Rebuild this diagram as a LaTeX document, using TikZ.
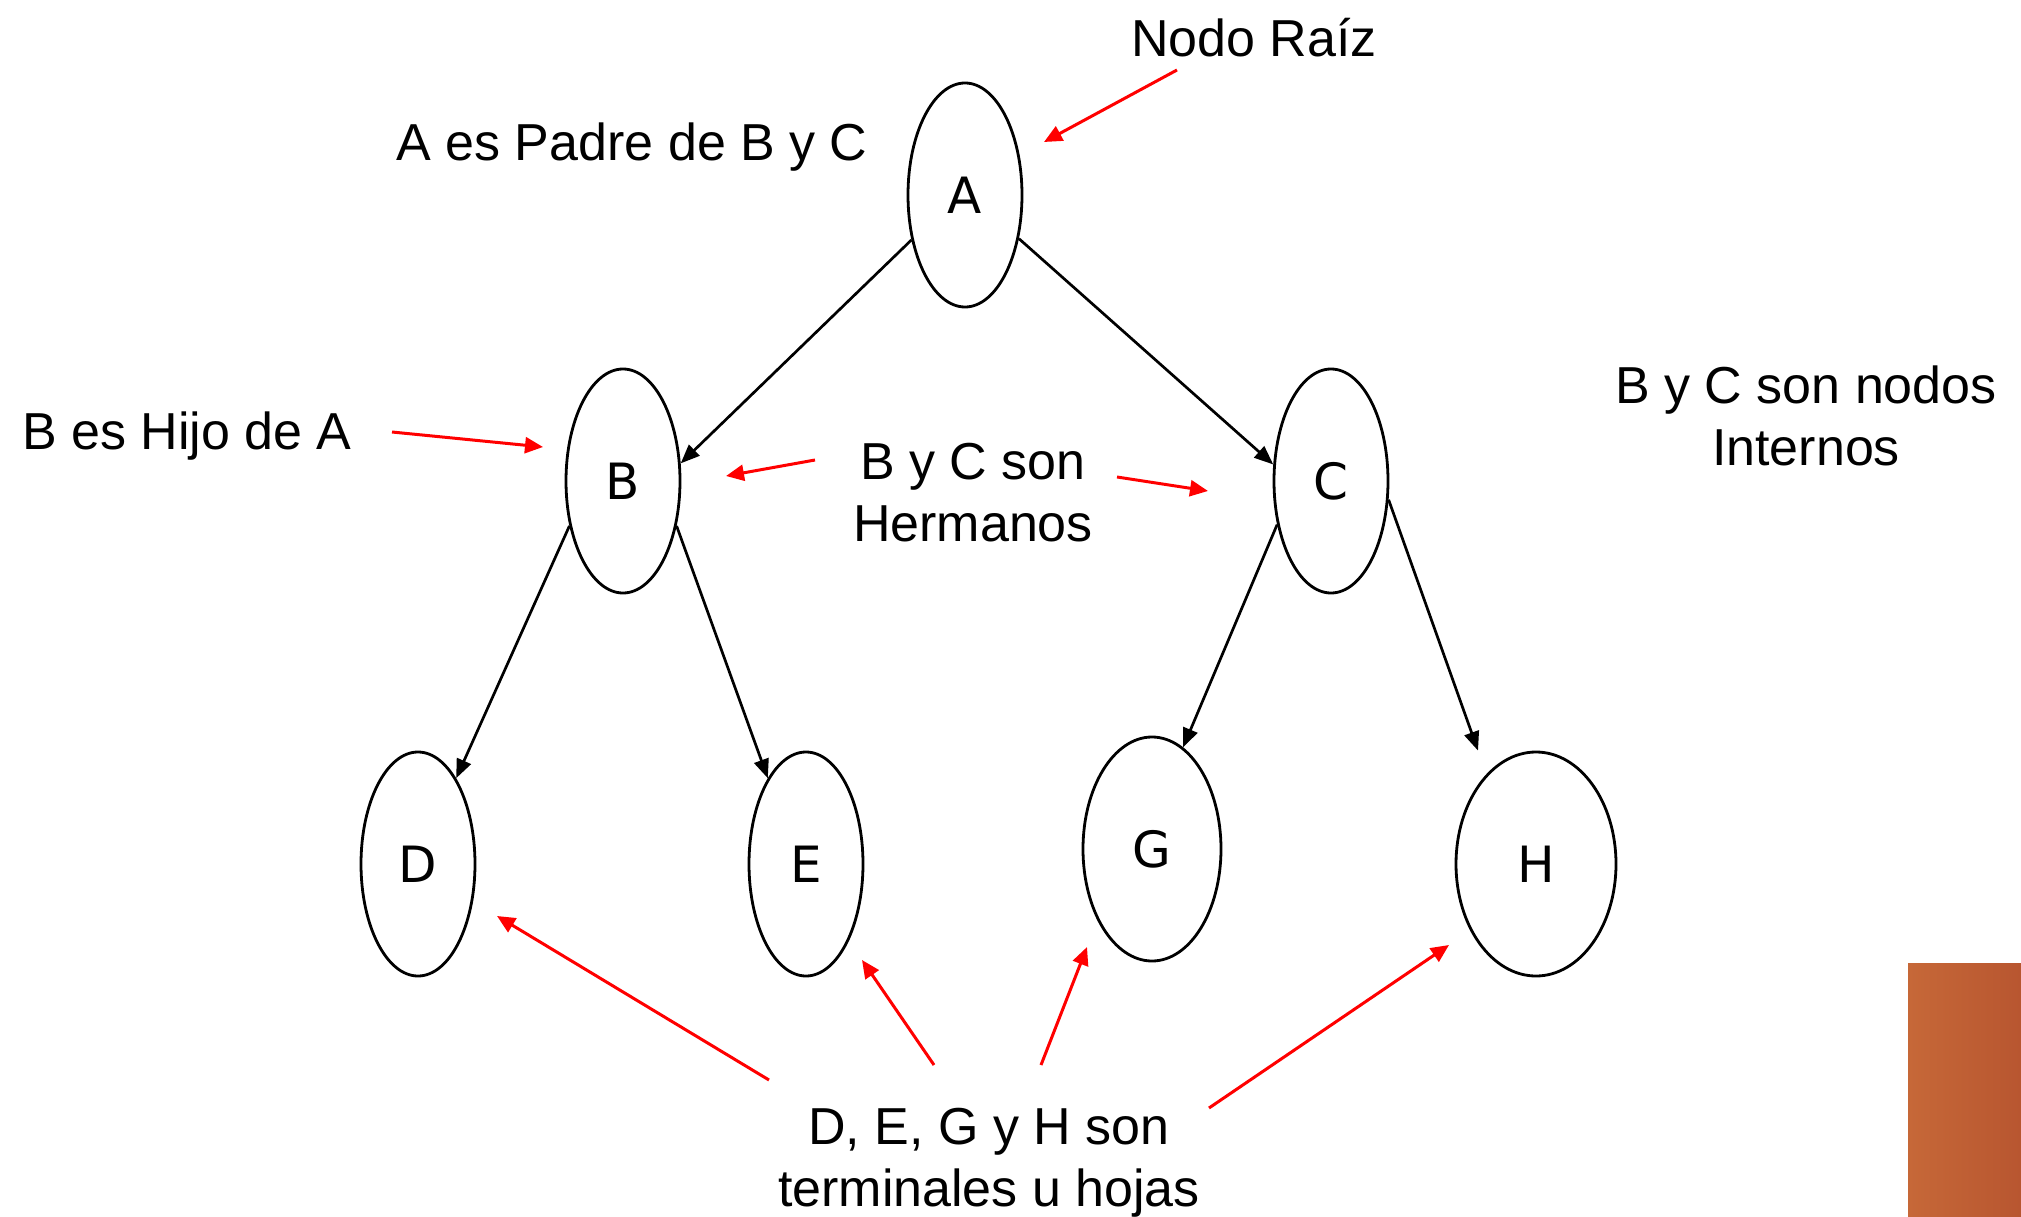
\documentclass[tikz,border=0pt]{standalone}
\usepackage{fontspec}
\setmainfont{Liberation Sans}
\newfontfamily\letterfont{DejaVu Sans}
\usetikzlibrary{shapes.geometric,arrows.meta,calc}
\begin{document}
\begin{tikzpicture}[x=1pt,y=-1pt,
  treenode/.style={ellipse,draw,line width=2.8pt,inner sep=0pt,
    minimum width=114pt,minimum height=224pt,
    font=\letterfont\fontsize{50}{60}\selectfont},
  label/.style={font=\fontsize{52}{62}\selectfont,align=center,inner sep=0pt},
  link/.style={line width=2.7pt,-{Triangle[length=19pt,width=15pt]}},
  hint/.style={red,line width=3pt,-{Triangle[length=18pt,width=16pt]}}]
\useasboundingbox (0,0) rectangle (2021,1217);

% tree nodes
\node[treenode] (A) at (965,195) {A};
\node[treenode] (B) at (623,481) {B};
\node[treenode] (C) at (1331,481) {C};
\node[treenode] (D) at (418,864) {D};
\node[treenode] (E) at (806,864) {E};
\node[treenode,minimum width=138pt] (G) at (1152,849) {G};
\node[treenode,minimum width=160pt] (H) at (1536,864) {H};

% parent-child edges
\draw[link] (A.220) -- (B.17);
\draw[link] (A.321) -- (C.164);
\draw[link] (B.220) -- (D.66);
\draw[link] (B.320) -- (E.114);
\draw[link] (C.219) -- (G.73);
\coordinate (Htop) at ($(H.north)+(-58,0)$);
\draw[link] (C.342) -- (Htop);

% annotations (base = baseline of the last line)
\node[label,anchor=base] (root) at (1254,57) {Nodo Raíz};
\node[label,anchor=base] (parent) at (632,161) {A es Padre de B y C};
\node[label,anchor=base] (child) at (187,449) {B es Hijo de A};
\node[label,anchor=base] (sib) at (973,541) {B y C son\\Hermanos};
\node[label,anchor=base] (internal) at (1806,465) {B y C son nodos\\Internos};
\node[label,anchor=base] (leaves) at (989,1206) {D, E, G y H son\\terminales u hojas};

% annotation pointers
\coordinate (r1) at (1177,70);   \coordinate (r2) at (1044,142);
\coordinate (c1) at (392,432);   \coordinate (c2) at (543,447);
\coordinate (s1) at (815,460);   \coordinate (s2) at (726,476);
\coordinate (s3) at (1117,477);  \coordinate (s4) at (1208,491);
\coordinate (d1) at (769,1080);  \coordinate (d2) at (497,916);
\coordinate (e1) at (934,1065);  \coordinate (e2) at (862,960);
\coordinate (g1) at (1041,1065); \coordinate (g2) at (1087,947);
\coordinate (h1) at (1209,1108); \coordinate (h2) at (1449,945);
\draw[hint] (r1) -- (r2);
\draw[hint] (c1) -- (c2);
\draw[hint] (s1) -- (s2);
\draw[hint] (s3) -- (s4);
\draw[hint] (d1) -- (d2);
\draw[hint] (e1) -- (e2);
\draw[hint] (g1) -- (g2);
\draw[hint] (h1) -- (h2);

% orange block at the lower right corner
\fill[left color={rgb,255:red,198;green,104;blue,56},
      right color={rgb,255:red,184;green,86;blue,48}]
  (1908,963) rectangle (2021,1217);
\end{tikzpicture}
\end{document}
